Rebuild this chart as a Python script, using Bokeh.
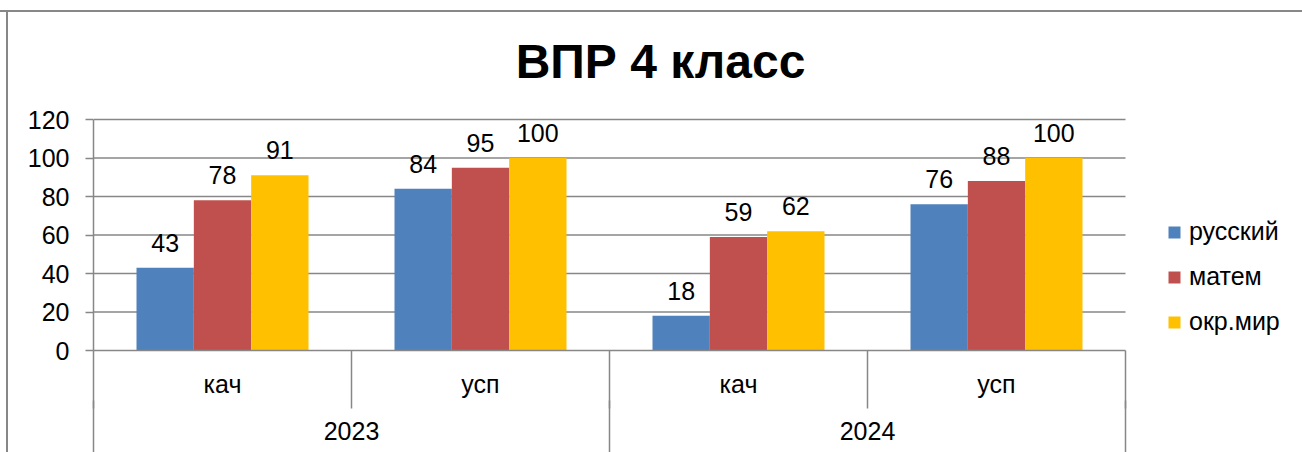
from bokeh.plotting import figure
from bokeh.models import (Range1d, FixedTicker, LinearAxis, CustomJSTickFormatter, ColumnDataSource,
                          LabelSet, Label, Legend, LegendItem)
from bokeh.transform import dodge
from bokeh.core.properties import value
from bokeh.embed import file_html
from bokeh.resources import INLINE

# ---- data ----
categories = ["кач", "усп", "кач", "усп"]
years = ["2023", "2024"]
series = ["русский", "матем", "окр.мир"]
russian = [43, 84, 18, 76]
math = [78, 95, 59, 88]
world = [91, 100, 62, 100]
y_ticks = [0, 20, 40, 60, 80, 100, 120]
title_text = "ВПР 4 класс"

colors = ["#4F81BD", "#C0504D", "#FFC000"]
FONT = "Liberation Sans"
GRAY = "#878787"
FS = "25px"

x_pos = [i + 1 for i in range(len(categories))]
bounds = [i + 0.5 for i in range(len(categories) + 1)]
year_pos = [(x_pos[2 * i] + x_pos[2 * i + 1]) / 2 for i in range(len(years))]
year_bounds = [bounds[0], bounds[2], bounds[4]]

src = ColumnDataSource(dict(
    x=x_pos,
    s0=russian, s1=math, s2=world,
    t0=[str(v) for v in russian], t1=[str(v) for v in math], t2=[str(v) for v in world],
))

# plot area: x 93..1125 px for the 4 categories, y 119..350 px for 0..120;
# the frame is extended to the right/top edges so legend and title sit inside it
W, H = 1302, 452
FL, FB = 93, 350
px_per_cat = (1125 - FL) / len(categories)
px_per_unit = (FB - 119) / y_ticks[-1]
x_range = Range1d(bounds[0], bounds[0] + (W - FL) / px_per_cat)
y_range = Range1d(0, FB / px_per_unit)

p = figure(width=W, height=H, x_range=x_range, y_range=y_range,
           output_backend="svg", toolbar_location=None, x_axis_type=None, y_axis_type=None,
           min_border_left=FL, min_border_right=0, min_border_top=0, min_border_bottom=H - FB)
p.outline_line_color = None
p.background_fill_color = None
p.border_fill_color = None
p.styles = {
    "background-color": "white",
    "background-image": f"linear-gradient({GRAY}, {GRAY}), linear-gradient({GRAY}, {GRAY})",
    "background-size": "100% 2px, 2px 100%",
    "background-position": "0px 10px, 6px 10px",
    "background-repeat": "no-repeat",
}

# horizontal grid lines (limited to the plot area)
grid_y = y_ticks[1:]
p.segment(x0=[bounds[0]] * len(grid_y), x1=[bounds[-1]] * len(grid_y), y0=grid_y, y1=grid_y,
          line_color=GRAY, line_width=1.5)

# y axis
yaxis = LinearAxis(ticker=FixedTicker(ticks=y_ticks, minor_ticks=[]), bounds=(y_ticks[0], y_ticks[-1]))
yaxis.axis_line_color = GRAY
yaxis.axis_line_width = 1.5
yaxis.major_tick_line_color = GRAY
yaxis.major_tick_line_width = 1.5
yaxis.major_tick_out = 8
yaxis.major_tick_in = 0
yaxis.minor_tick_line_color = None
yaxis.minor_tick_out = 0
yaxis.minor_tick_in = 0
yaxis.major_label_standoff = 16
yaxis.major_label_text_font = FONT
yaxis.major_label_text_font_size = FS
yaxis.major_label_text_color = "black"
p.add_layout(yaxis, "left")

# x axis (categories)
xaxis = LinearAxis(ticker=FixedTicker(ticks=x_pos, minor_ticks=bounds), bounds=(bounds[0], bounds[-1]),
                   formatter=CustomJSTickFormatter(args=dict(labels=categories),
                                                   code="const i = Math.round(tick) - 1; return (i >= 0 && i < labels.length) ? labels[i] : '';"))
xaxis.axis_line_color = GRAY
xaxis.axis_line_width = 1.5
xaxis.major_tick_line_color = None
xaxis.major_tick_out = 0
xaxis.major_tick_in = 0
xaxis.minor_tick_line_color = GRAY
xaxis.minor_tick_line_width = 1.5
xaxis.minor_tick_out = 58
xaxis.minor_tick_in = 0
xaxis.major_label_standoff = -39
xaxis.major_label_text_font = FONT
xaxis.major_label_text_font_size = FS
xaxis.major_label_text_color = "black"
p.add_layout(xaxis, "below")

# x axis (years + year separators)
xaxis2 = LinearAxis(ticker=FixedTicker(ticks=year_pos, minor_ticks=year_bounds), bounds=(bounds[0], bounds[-1]),
                    formatter=CustomJSTickFormatter(args=dict(labels=years, pos=year_pos),
                                                    code="const i = pos.indexOf(tick); return i >= 0 ? labels[i] : '';"))
xaxis2.axis_line_color = None
xaxis2.major_tick_line_color = None
xaxis2.major_tick_out = 0
xaxis2.major_tick_in = 0
xaxis2.minor_tick_line_color = GRAY
xaxis2.minor_tick_line_width = 1.5
xaxis2.minor_tick_out = 70
xaxis2.minor_tick_in = 0
xaxis2.major_label_standoff = -49
xaxis2.major_label_text_font = FONT
xaxis2.major_label_text_font_size = FS
xaxis2.major_label_text_color = "black"
p.add_layout(xaxis2, "below")

# bars + labels
bw = 1 / 4.5
offsets = [-bw, 0, bw]
for k in range(3):
    p.vbar(x=dodge("x", offsets[k], range=p.x_range), top=f"s{k}", bottom=0, width=bw,
           source=src, fill_color=colors[k], line_color=None)
    p.add_layout(LabelSet(x=dodge("x", offsets[k], range=p.x_range), y=f"s{k}", text=f"t{k}",
                          source=src, text_align="center", text_baseline="alphabetic",
                          y_offset=16, text_font=value(FONT), text_font_size=FS,
                          text_color="black"))

# title
p.add_layout(Label(x=660 - FL, y=FB - 61, x_units="screen", y_units="screen", text=title_text,
                   text_align="center", text_baseline="alphabetic",
                   text_font=FONT, text_font_size="48px", text_font_style="bold",
                   text_color="black"))

# legend
items = []
for k in range(3):
    r = p.scatter(x=[x_pos[0]], y=[-1000], marker="square", size=12,
                  fill_color=colors[k], line_color=None)
    items.append(LegendItem(label=series[k], renderers=[r]))
legend = Legend(items=items, location=(1159 - FL, 13.5), glyph_width=30, glyph_height=30,
                label_height=30, spacing=15, padding=0, margin=0, label_standoff=0,
                border_line_color=None, background_fill_alpha=0,
                label_text_font=FONT, label_text_font_size=FS, label_text_color="black")
p.add_layout(legend)

open("out.html", "w").write(file_html(p, INLINE))
